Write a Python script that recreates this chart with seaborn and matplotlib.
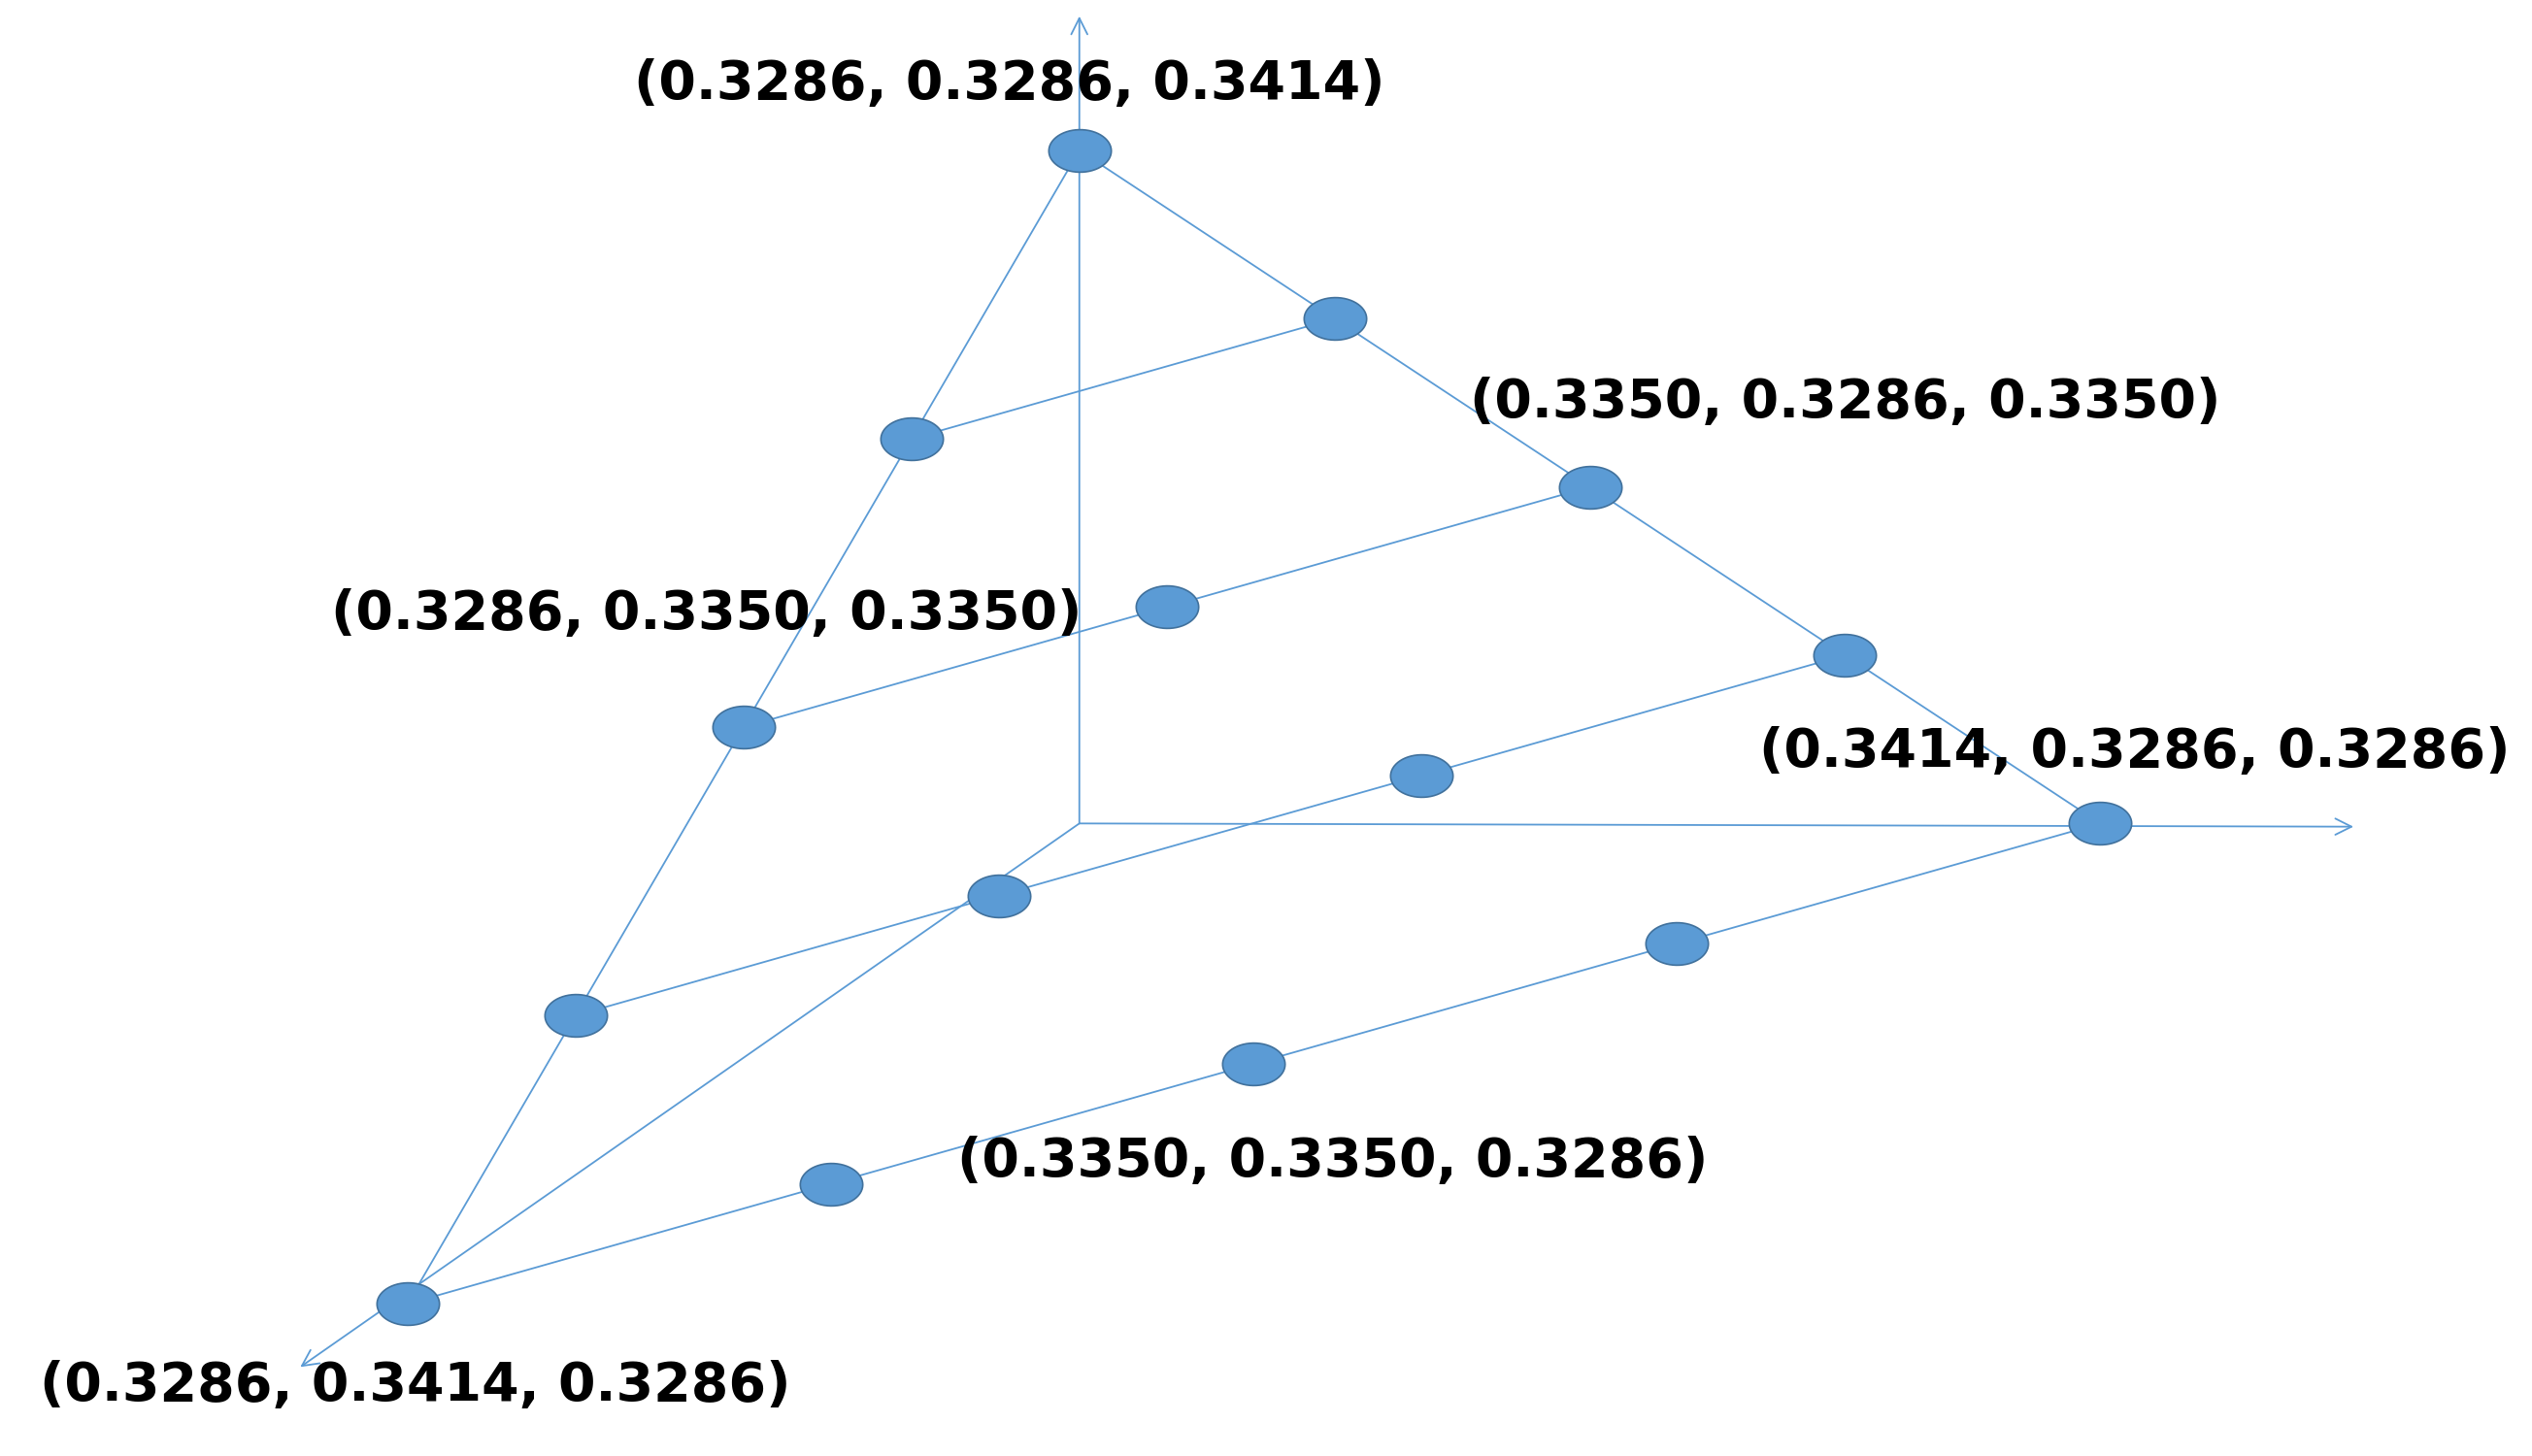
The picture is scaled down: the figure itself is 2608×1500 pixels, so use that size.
import numpy as np
import pandas as pd
import matplotlib
matplotlib.use("Agg")
import matplotlib.pyplot as plt
import seaborn as sns
from matplotlib.path import Path

levels = [0.3286, 0.3318, 0.3350, 0.3382, 0.3414]
label_points = [
    (0.3286, 0.3286, 0.3414),
    (0.3350, 0.3286, 0.3350),
    (0.3286, 0.3350, 0.3350),
    (0.3414, 0.3286, 0.3286),
    (0.3350, 0.3350, 0.3286),
    (0.3286, 0.3414, 0.3286),
]
label_pos = [(622, 52), (1137, 249), (435, 380), (1315, 465), (821, 718), (256, 857)]

origin = np.array([665.0, 509.0])
base = levels[0]
span = levels[-1] - levels[0]
e1 = (np.array([1294.0, 509.0]) - origin) / span
e2 = (np.array([251.0, 806.0]) - origin) / span
e3 = (np.array([665.0, 93.0]) - origin) / span

def proj(p):
    p = np.asarray(p) - base
    return origin + p[0] * e1 + p[1] * e2 + p[2] * e3

pts = []
n = len(levels) - 1
for i in range(n + 1):
    for j in range(n + 1 - i):
        k = n - i - j
        pts.append((levels[i], levels[j], levels[k]))
xy = np.array([proj(p) for p in pts])
df = pd.DataFrame({"x": xy[:, 0], "y": xy[:, 1]})

sns.set_theme(style="white")
fig = plt.figure(figsize=(26.08, 15.0), dpi=100)
ax = fig.add_axes([0, 0, 1, 1])

col = "#5B9BD5"
lw = 1.3
arrow_ends = [(665, 10), (1450, 511), (185, 845)]
for end in arrow_ends:
    ax.annotate("", xy=end, xytext=tuple(origin),
                arrowprops=dict(arrowstyle="->", color=col, lw=lw,
                                mutation_scale=30, shrinkA=0, shrinkB=0))

def seg(a, b):
    A, B = proj(a), proj(b)
    ax.plot([A[0], B[0]], [A[1], B[1]], color=col, lw=lw, zorder=2)

seg((levels[0], levels[0], levels[n]), (levels[0], levels[n], levels[0]))
seg((levels[0], levels[0], levels[n]), (levels[n], levels[0], levels[0]))
for t in range(n):
    m = n - t
    seg((levels[0], levels[m], levels[t]), (levels[m], levels[0], levels[t]))

t = np.linspace(0, 2 * np.pi, 60)
ell = Path(np.column_stack([np.cos(t), 0.68 * np.sin(t)]), closed=True)
sns.scatterplot(data=df, x="x", y="y", ax=ax, marker=ell, s=2150,
                color=col, edgecolor="#41719C", linewidth=1.2, zorder=5)
ax.set_xlim(0, 1560)
ax.set_ylim(900, 0)
ax.axis("off")

for p, (lx, ly) in zip(label_points, label_pos):
    ax.text(lx, ly, "(%.4f, %.4f, %.4f)" % p, ha="center", va="center",
            fontsize=40, fontweight="bold", color="black", zorder=6)

fig.savefig("out.png", dpi=100)
